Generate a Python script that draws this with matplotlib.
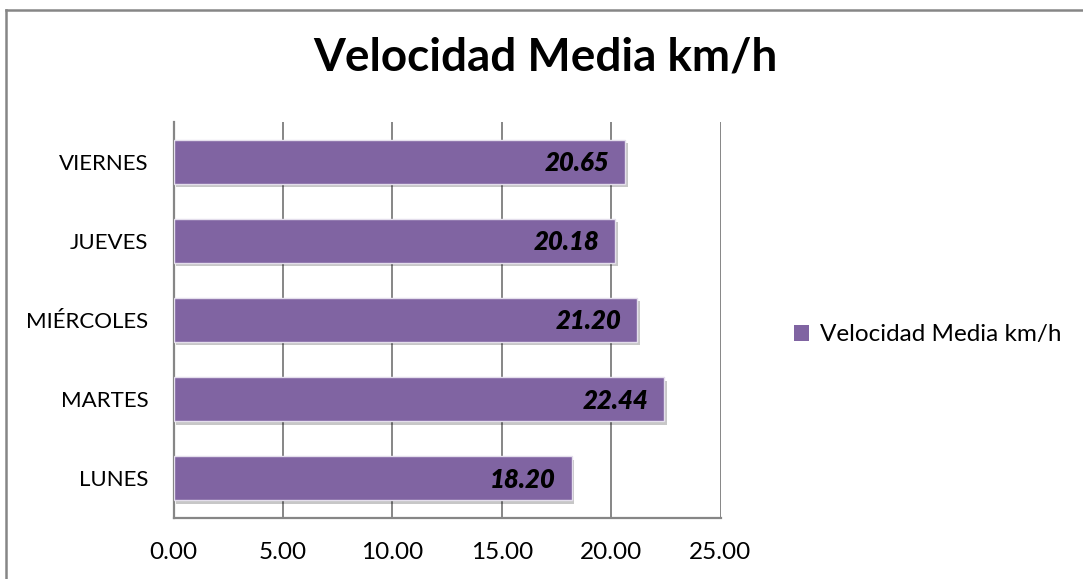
import matplotlib
matplotlib.use("Agg")
import matplotlib.pyplot as plt
from matplotlib import patheffects as pe
from matplotlib.lines import Line2D
from matplotlib.patches import Patch

# Datos
dias = ["LUNES", "MARTES", "MIÉRCOLES", "JUEVES", "VIERNES"]
velocidad = [18.20, 22.44, 21.20, 20.18, 20.65]
ticks_x = [0, 5, 10, 15, 20, 25]
etiquetas_x = ["0.00", "5.00", "10.00", "15.00", "20.00", "25.00"]
titulo = "Velocidad Media km/h"
serie = "Velocidad Media km/h"

MORADO = "#8064A2"
GRIS = "#868686"
FUENTE = "Lato"

W, H = 1083, 579
fig = plt.figure(figsize=(W / 100, H / 100), dpi=100)
fig.patch.set_facecolor("white")

ax = fig.add_axes([173.5 / W, 1 - 518 / H, (720.5 - 173.5) / W, (518 - 122) / H])

pos = list(range(len(dias)))
barras = ax.barh(
    pos, velocidad, height=0.556, color=MORADO, edgecolor="#E4DEEC",
    linewidth=1.0, zorder=3,
)
for b in barras:
    b.set_path_effects([
        pe.SimplePatchShadow(offset=(2, -2.5), shadow_rgbFace="black", alpha=0.22),
        pe.Normal(),
    ])

# Valores dentro del extremo de cada barra
for y, v in zip(pos, velocidad):
    ax.annotate(
        f"{v:.2f}", xy=(v, y), xytext=(-11.5, -1), textcoords="offset points",
        ha="right", va="center", fontsize=18.5, fontweight="heavy",
        fontstyle="italic", family=FUENTE, color="black", zorder=4,
    )

ax.set_xlim(0, 25)
ax.set_ylim(-0.5, len(dias) - 0.5)
ax.set_xticks(ticks_x)
ax.set_xticklabels(etiquetas_x, family=FUENTE, fontsize=17.5)
ax.set_yticks(pos)
ax.set_yticklabels(dias, family=FUENTE, fontsize=16)
ax.tick_params(axis="both", length=0)
ax.tick_params(axis="x", pad=17)
ax.tick_params(axis="y", pad=18)

ax.set_axisbelow(True)
ax.xaxis.grid(True, color=GRIS, linewidth=1.4)
for lado in ("top", "right"):
    ax.spines[lado].set_visible(False)
for lado in ("left", "bottom"):
    ax.spines[lado].set_color(GRIS)
    ax.spines[lado].set_linewidth(1.6)

# Título
fig.text(545 / W, 1 - 70 / H, titulo, ha="center", va="baseline",
         fontsize=33, fontweight="bold", family=FUENTE)

# Leyenda
fig.legend(
    handles=[Patch(facecolor=MORADO, edgecolor="none")], labels=[serie],
    loc="center left", bbox_to_anchor=(794 / W, 1 - 335 / H),
    frameon=False, prop={"family": FUENTE, "size": 17.5},
    handlelength=0.6, handleheight=0.6, handletextpad=0.45,
    borderpad=0, borderaxespad=0,
)

# Borde del área del gráfico
fig.add_artist(Line2D([6 / W, 6 / W], [0, 1 - 10 / H], color=GRIS, lw=1.8,
                      transform=fig.transFigure))
fig.add_artist(Line2D([6 / W, 1], [1 - 10 / H, 1 - 10 / H], color=GRIS, lw=1.8,
                      transform=fig.transFigure))

fig.savefig("out.png", dpi=100)
